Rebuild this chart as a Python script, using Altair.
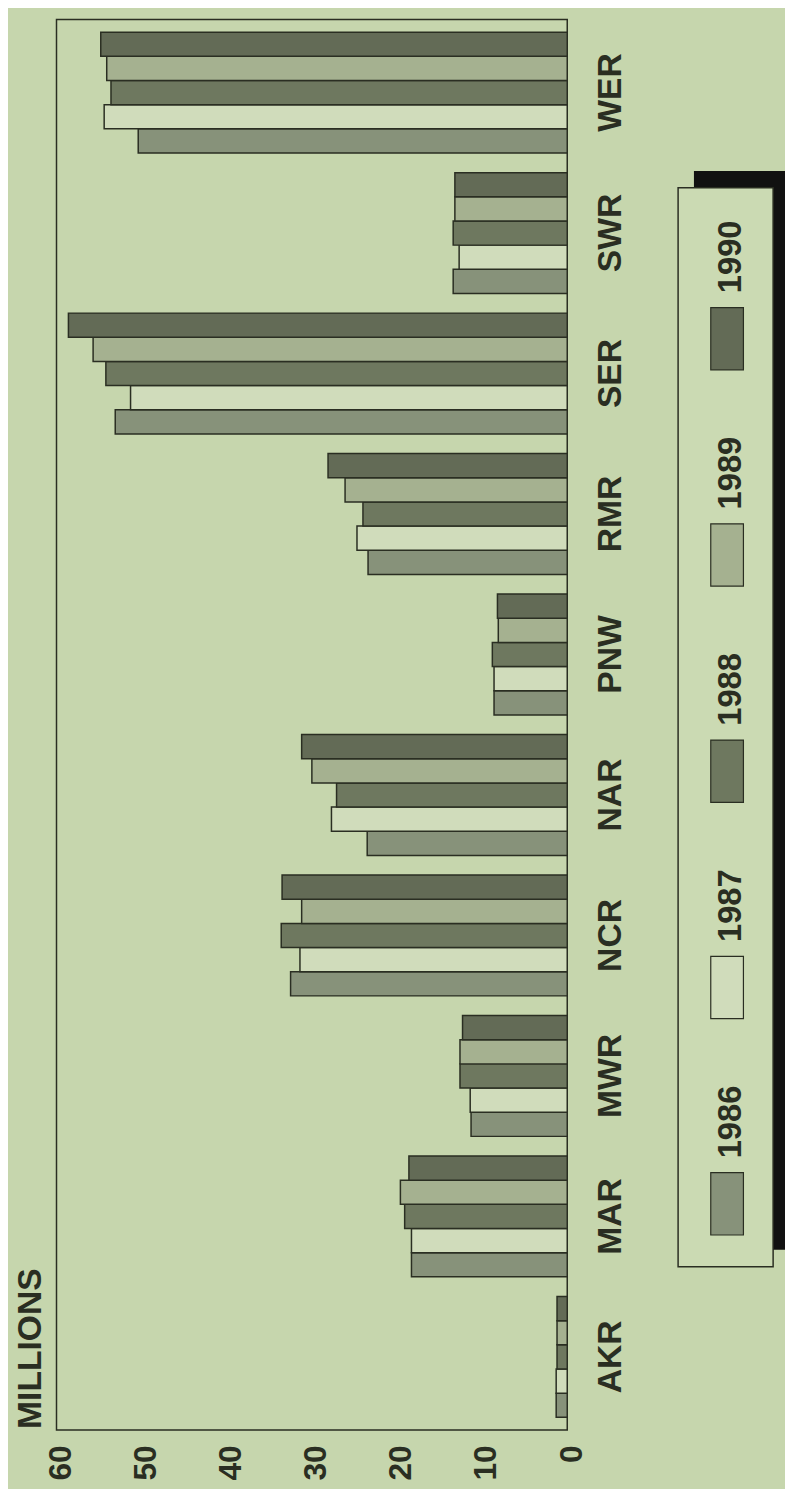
import altair as alt
import pandas as pd

# ---- data ----
regions = ["AKR", "MAR", "MWR", "NCR", "NAR", "PNW", "RMR", "SER", "SWR", "WER"]
years = ["1986", "1987", "1988", "1989", "1990"]
v1986 = [1.3, 18.3, 11.3, 32.5, 23.5, 8.6, 23.4, 53.1, 13.4, 50.4]
v1987 = [1.3, 18.3, 11.4, 31.4, 27.7, 8.6, 24.7, 51.3, 12.7, 54.4]
v1988 = [1.2, 19.1, 12.6, 33.6, 27.1, 8.8, 24.0, 54.2, 13.4, 53.6]
v1989 = [1.2, 19.6, 12.6, 31.2, 30.0, 8.1, 26.1, 55.7, 13.2, 54.1]
v1990 = [1.2, 18.6, 12.3, 33.5, 31.2, 8.2, 28.1, 58.6, 13.2, 54.8]
ticks = [0, 10, 20, 30, 40, 50, 60]
axis_title = "MILLIONS"

series = {"1986": v1986, "1987": v1987, "1988": v1988, "1989": v1989, "1990": v1990}
rows = []
for y, vals in series.items():
    for r, v in zip(regions, vals):
        rows.append({"region": r, "year": y, "value": v})
df = pd.DataFrame(rows)
legend_df = pd.DataFrame({"year": years})
one = pd.DataFrame({"k": [0]})
title_df = pd.DataFrame({"t": [axis_title]})

# ---- style ----
BG = "#c6d6ad"
INK = "#2a2e22"
FONT = "Liberation Sans"
fills = ["#87927a", "#d0dcbb", "#6e785f", "#a5b190", "#636b56"]
order_top = list(reversed(regions))
years_desc = list(reversed(years))

color = alt.Fill("year:N", scale=alt.Scale(domain=years, range=fills), legend=None)

bars = alt.Chart(df).mark_bar(stroke=INK, strokeWidth=1.5).encode(
    x=alt.X("value:Q",
            scale=alt.Scale(domain=[0, 60], reverse=True, nice=False, zero=True),
            axis=alt.Axis(values=ticks, labelAngle=270, labelAlign="right",
                          labelBaseline="middle", labelPadding=15, labelOffset=4,
                          labelFontSize=32, labelFont=FONT, labelFontWeight="bold",
                          labelColor=INK, ticks=False, domain=False, grid=False,
                          title=None)),
    y=alt.Y("region:N", sort=order_top,
            scale=alt.Scale(paddingInner=0.14, paddingOuter=0.09),
            axis=alt.Axis(orient="right", labelAngle=270, labelAlign="center",
                          labelBaseline="top", labelPadding=27, labelFontSize=34,
                          labelFont=FONT, labelFontWeight="bold", labelColor=INK,
                          ticks=False, domain=False, grid=False, title=None)),
    yOffset=alt.YOffset("year:N", sort=years_desc, scale=alt.Scale(paddingInner=0)),
    fill=color,
)

# axis title, rotated like the rest of the page
title = alt.Chart(title_df).mark_text(
    angle=270, align="left", baseline="alphabetic", fontSize=34, font=FONT,
    fontWeight="bold", color=INK).encode(
    x=alt.value(-16), y=alt.value(1424), text="t:N")

# ---- hand-built rotated legend ----
leg_y = alt.Y("year:N", sort=years_desc,
              scale=alt.Scale(range=[291, 1228], paddingInner=0.712, paddingOuter=0),
              axis=None)

shadow = alt.Chart(one).mark_rect(fill="#111111").encode(
    x=alt.value(644), x2=alt.value(740), y=alt.value(153), y2=alt.value(1243))
box = alt.Chart(one).mark_rect(fill="#cbdab3", stroke=INK, strokeWidth=1.5).encode(
    x=alt.value(628), x2=alt.value(724), y=alt.value(170), y2=alt.value(1260))
swatch = alt.Chart(legend_df).mark_bar(stroke=INK, strokeWidth=1.2).encode(
    y=leg_y, x=alt.value(661), x2=alt.value(694), fill=color)
labels = alt.Chart(legend_df).mark_text(
    angle=270, align="left", baseline="middle", dx=46, dy=5,
    fontSize=33, font=FONT, fontWeight="bold", color=INK).encode(
    y=leg_y, x=alt.value(677), text="year:N")

legend = alt.layer(swatch, labels)

chart = alt.layer(bars, title, shadow, box, legend).resolve_scale(y="independent").properties(
    width=516, height=1425,
    autosize="none",
    padding={"left": 49, "top": 4, "right": 220, "bottom": 52},
).configure(background=BG).configure_view(stroke=INK, strokeWidth=1.5, fill=BG)

chart.save("out.html", embed_options={"renderer": "svg", "actions": False})
